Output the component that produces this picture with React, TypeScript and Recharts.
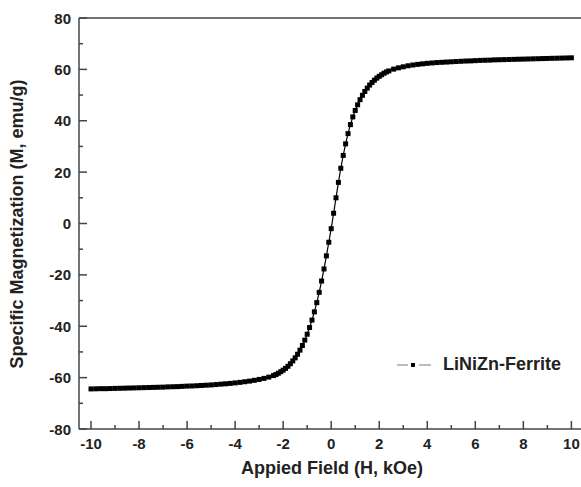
import React from "react";
import {
  LineChart,
  Line,
  XAxis,
  YAxis,
  ReferenceLine,
  Label
} from "recharts";

// applied field (kOe)
const fieldH = [
  -10, -9.8, -9.6, -9.4, -9.2, -9, -8.8, -8.6, -8.4, -8.2, -8, -7.8, -7.6, -7.4, -7.2, -7,
  -6.8, -6.6, -6.4, -6.2, -6, -5.8, -5.6, -5.4, -5.2, -5, -4.8, -4.6, -4.4, -4.2, -4,
  -3.8, -3.6, -3.4, -3.2, -3, -2.8, -2.6, -2.4, -2.3, -2.2, -2.1, -2, -1.9, -1.8, -1.7,
  -1.6, -1.5, -1.4, -1.3, -1.2, -1.1, -1, -0.9, -0.8, -0.7, -0.6, -0.5, -0.4, -0.3, -0.2,
  -0.1, 0, 0.1, 0.2, 0.3, 0.4, 0.5, 0.6, 0.7, 0.8, 0.9, 1, 1.1, 1.2, 1.3, 1.4, 1.5, 1.6,
  1.7, 1.8, 1.9, 2, 2.1, 2.2, 2.3, 2.4, 2.6, 2.8, 3, 3.2, 3.4, 3.6, 3.8, 4, 4.2, 4.4, 4.6,
  4.8, 5, 5.2, 5.4, 5.6, 5.8, 6, 6.2, 6.4, 6.6, 6.8, 7, 7.2, 7.4, 7.6, 7.8, 8, 8.2, 8.4,
  8.6, 8.8, 9, 9.2, 9.4, 9.6, 9.8, 10
];

// specific magnetization (emu/g)
const magM = [
  -64.4, -64.35, -64.3, -64.3, -64.25, -64.2, -64.15, -64.1, -64.05, -64.0, -63.95, -63.9,
  -63.85, -63.8, -63.75, -63.7, -63.6, -63.55, -63.5, -63.4, -63.3, -63.25, -63.15, -63.05,
  -62.95, -62.85, -62.7, -62.55, -62.4, -62.25, -62.05, -61.85, -61.6, -61.35, -61.05,
  -60.7, -60.3, -59.8, -59.2, -58.8, -58.3, -57.7, -57.1, -56.4, -55.6, -54.6, -53.5,
  -52.3, -50.9, -49.3, -47.5, -45.4, -43.1, -40.5, -37.6, -34.4, -30.8, -26.8, -22.4,
  -17.7, -12.6, -7.3, -2, 4, 10, 16, 21.5, 26.5, 31, 35, 38.5, 41.5, 44, 46.2, 48.2, 49.9,
  51.4, 52.7, 53.9, 54.9, 55.8, 56.6, 57.3, 57.9, 58.5, 59.0, 59.4, 60.1, 60.6, 61.0, 61.4,
  61.7, 61.95, 62.15, 62.35, 62.5, 62.65, 62.75, 62.85, 62.95, 63.05, 63.15, 63.25, 63.3,
  63.4, 63.5, 63.55, 63.6, 63.7, 63.75, 63.8, 63.85, 63.9, 63.95, 64.0, 64.05, 64.1, 64.15,
  64.2, 64.25, 64.3, 64.35, 64.4, 64.45, 64.5, 64.5
];

const xTicks = [-10, -9, -8, -7, -6, -5, -4, -3, -2, -1, 0, 1, 2, 3, 4, 5, 6, 7, 8, 9, 10];
const yTicks = [-80, -70, -60, -50, -40, -30, -20, -10, 0, 10, 20, 30, 40, 50, 60, 70, 80];

const seriesName = "LiNiZn-Ferrite";

const data = fieldH.map((h, i) => ({ h, m: magM[i] }));

const AXIS = "#444";
const FONT = "'Liberation Sans', Arial, sans-serif";

const XTick = (props: any) => {
  const { x, y, payload } = props;
  const major = payload.value % 2 === 0;
  return (
    <g>
      <line x1={x} x2={x} y1={y} y2={y - (major ? 8 : 4)} stroke={AXIS} strokeWidth={1.5} />
      {major && (
        <text x={x} y={y + 20} textAnchor="middle" fontFamily={FONT} fontWeight="bold" fontSize={15} fill="#222">
          {payload.value}
        </text>
      )}
    </g>
  );
};

const YTick = (props: any) => {
  const { x, y, payload } = props;
  const major = payload.value % 20 === 0;
  return (
    <g>
      <line x1={x} x2={x + (major ? 8 : 4)} y1={y} y2={y} stroke={AXIS} strokeWidth={1.5} />
      {major && (
        <text x={x - 8} y={y + 5.5} textAnchor="end" fontFamily={FONT} fontWeight="bold" fontSize={15} fill="#222">
          {payload.value}
        </text>
      )}
    </g>
  );
};

const SquareDot = (props: any) => {
  const { cx, cy, index } = props;
  return <rect key={`dot-${index}`} x={cx - 2.5} y={cy - 2.5} width={5} height={5} fill="#000" />;
};

const LegendBox = () => (
  <div
    style={{
      position: "absolute",
      left: 397,
      top: 354,
      display: "flex",
      alignItems: "center",
      fontFamily: FONT,
      fontWeight: "bold",
      fontSize: 18,
      color: "#222",
      lineHeight: "21px"
    }}
  >
    <svg width={36} height={10}>
      <line x1={0} x2={11} y1={5} y2={5} stroke="#777" strokeWidth={1} />
      <line x1={22} x2={34} y1={5} y2={5} stroke="#777" strokeWidth={1} />
      <rect x={14} y={3} width={4} height={4} fill="#000" />
    </svg>
    <span style={{ marginLeft: 10 }}>{seriesName}</span>
  </div>
);

export default function App(): JSX.Element {
  return (
    <div style={{ position: "absolute", left: 0, top: 0, width: 581, height: 487 }}>
      <LineChart
        width={581}
        height={487}
        data={data}
        margin={{ top: 18, right: 0, left: 29, bottom: 28 }}
      >
        <XAxis
          type="number"
          dataKey="h"
          domain={[-10.5, 10.4]}
          ticks={xTicks}
          interval={0}
          allowDataOverflow
          height={30}
          tickSize={0}
          tickMargin={0}
          tickLine={false}
          axisLine={{ stroke: AXIS, strokeWidth: 1.5 }}
          tick={<XTick />}
        >
          <Label
            content={() => (
              <text x={332} y={474} textAnchor="middle" fontFamily={FONT} fontWeight="bold" fontSize={18} fill="#222">
                Appied Field (H, kOe)
              </text>
            )}
          />
        </XAxis>
        <YAxis
          type="number"
          domain={[-80, 80]}
          ticks={yTicks}
          interval={0}
          width={50}
          tickSize={0}
          tickMargin={0}
          tickLine={false}
          axisLine={{ stroke: AXIS, strokeWidth: 1.5 }}
          tick={<YTick />}
        >
          <Label
            content={() => (
              <text
                x={23}
                y={224}
                transform="rotate(-90 23 224)"
                textAnchor="middle"
                fontFamily={FONT}
                fontWeight="bold"
                fontSize={18}
                fill="#222"
              >
                Specific Magnetization (M, emu/g)
              </text>
            )}
          />
        </YAxis>
        <ReferenceLine y={80} stroke={AXIS} strokeWidth={1.5} />
        <Line
          type="linear"
          dataKey="m"
          name={seriesName}
          stroke="#000"
          strokeWidth={1.2}
          dot={<SquareDot />}
          activeDot={false}
          isAnimationActive={false}
        />
      </LineChart>
      <LegendBox />
    </div>
  );
}
